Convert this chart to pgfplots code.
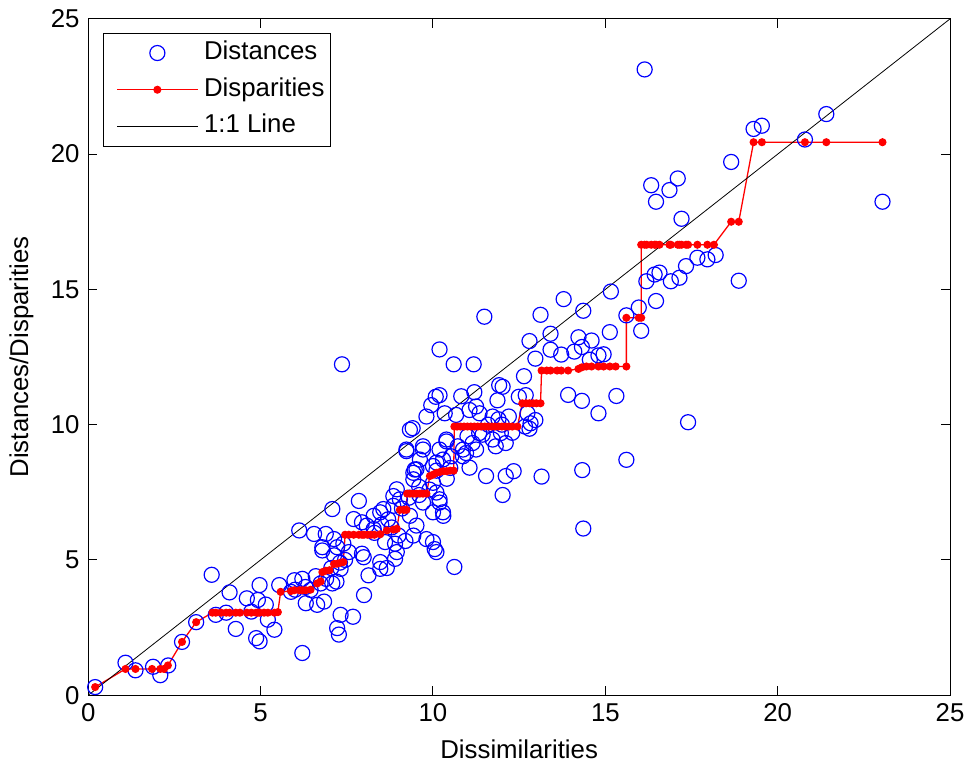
\documentclass[border=0pt]{standalone}
\usepackage{fontspec}
\setmainfont{Liberation Sans}
\usepackage{pgfplots}
\pgfplotsset{compat=1.18}
\begin{document}
\fontsize{26}{31}\selectfont
\begin{tikzpicture}
\begin{axis}[
  width=869pt, height=682pt, scale only axis,
  xmin=0, xmax=25, ymin=0, ymax=25,
  xtick={0,5,10,15,20,25}, ytick={0,5,10,15,20,25},
  tick align=inside, major tick length=9pt,
  axis line style={line width=1pt, black},
  every tick/.style={line width=1pt, black},
  /pgf/number format/assume math mode=true,
  xlabel={Dissimilarities}, ylabel={Distances/Disparities},
  legend cell align=left,
  legend style={at={(axis description cs:0.0173,0.9795)}, anchor=north west,
    draw=black, line width=1pt, inner xsep=4pt, inner ysep=5pt,
    column sep=4pt, row sep=7pt,
    nodes={inner sep=2pt, text height=0.75em, text depth=0.25em}},
  legend image code/.code={\path (0pt,0pt); \draw[mark repeat=2,mark phase=2,#1] plot coordinates {(9pt,0pt) (49.5pt,0pt) (90pt,0pt)};},
]
\addplot[blue, only marks, mark=o, mark size=7.6pt, mark options={line width=1.2pt}] table {
x y
0.2 0.3
1.08 1.2
1.37 0.92
1.88 1.05
2.09 0.74
2.32 1.1
2.72 1.97
3.13 2.7
3.58 4.45
3.7 2.97
4.0 3.05
4.1 3.8
4.28 2.45
4.6 3.58
4.73 3.09
4.92 3.52
4.97 4.07
4.87 2.11
4.97 1.99
5.15 3.35
5.21 2.79
5.4 2.42
5.54 4.07
5.88 3.82
5.98 4.25
6.0 3.9
6.21 4.3
6.31 3.4
6.3 4.0
6.45 3.89
6.64 3.34
6.6 4.4
6.84 3.46
6.9 4.3
6.21 1.56
6.74 4.13
7.08 4.13
7.2 4.2
7.22 2.48
7.27 2.24
7.32 2.97
6.79 5.35
6.12 6.09
7.08 6.88
6.55 5.96
6.89 5.96
7.13 5.77
7.22 5.47
6.79 5.47
7.13 5.17
7.56 5.29
7.36 12.23
7.32 4.67
7.05 4.7
7.3 4.9
7.45 5.0
7.4 5.6
7.94 5.23
7.85 7.18
7.7 6.51
7.94 6.39
8.08 6.27
8.28 6.63
8.47 6.76
8.28 6.14
8.3 6.0
8.5 6.3
8.7 6.5
8.8 6.2
8.56 6.88
8.85 7.0
8.61 5.66
8.9 5.6
8.47 4.92
8.9 5.04
7.99 5.1
8.13 4.43
8.47 4.67
8.66 4.7
8.0 3.7
7.68 2.9
8.95 7.61
9.04 7.24
8.85 7.36
8.95 5.29
9.0 5.9
9.2 5.7
9.1 6.9
9.3 7.3
9.6 7.4
9.9 7.6
9.43 5.9
9.81 5.77
10.0 5.66
10.1 5.29
10.05 5.4
10.62 4.74
9.52 6.27
9.33 6.63
10.0 6.76
10.29 6.76
10.19 7.24
10.3 6.63
10.19 7.12
9.71 7.12
9.43 7.98
9.6 7.7
10.0 7.85
10.1 7.49
10.4 8.0
10.5 8.4
9.47 8.34
10.0 8.47
10.1 8.3
10.29 8.71
9.62 8.71
9.23 9.02
9.33 9.81
9.71 9.08
10.39 9.38
9.81 10.3
9.43 8.22
9.52 8.35
10.1 8.6
9.23 9.08
9.71 9.2
9.41 9.87
9.95 10.72
10.08 11.03
10.19 12.78
10.19 11.09
10.34 10.42
10.39 9.45
10.19 9.08
10.53 8.83
10.6 12.23
10.67 10.36
10.72 9.2
10.82 11.05
10.87 8.83
10.87 9.08
10.96 8.95
11.0 9.57
11.06 10.54
11.06 8.41
11.15 9.32
11.18 12.23
11.2 11.2
11.25 10.67
11.25 9.08
11.34 9.69
11.35 10.42
11.44 9.63
11.49 13.99
11.54 8.1
11.6 10.0
11.73 10.3
11.73 9.45
11.82 9.2
11.87 10.9
11.92 11.46
11.9 10.2
11.97 9.69
12.0 10.0
12.02 11.4
12.02 7.4
12.11 9.32
12.11 8.1
12.2 10.3
12.3 9.7
12.34 8.28
12.49 11.03
12.64 11.79
12.67 9.93
12.69 11.09
12.74 10.42
12.8 9.85
12.8 13.09
12.83 10.05
12.97 12.44
12.97 10.17
13.12 14.06
13.15 8.08
13.41 13.36
13.41 12.77
13.72 12.59
13.79 14.64
13.92 11.1
14.1 12.7
14.22 13.23
14.32 12.87
14.32 10.88
14.33 8.32
14.36 6.16
14.36 14.21
14.55 12.4
14.6 13.11
14.8 12.56
14.8 10.42
14.95 12.6
15.13 13.42
15.16 14.92
15.32 11.06
15.61 14.04
15.61 8.7
15.97 14.33
16.04 13.47
16.14 23.13
16.19 15.3
16.33 18.85
16.43 15.55
16.47 14.57
16.47 18.24
16.57 15.62
16.86 18.67
16.9 15.3
17.1 19.1
17.15 15.43
17.21 17.61
17.34 15.86
17.4 10.09
17.67 16.17
17.96 16.11
18.2 16.27
18.65 19.71
18.87 15.32
19.3 20.93
19.54 21.05
20.79 20.54
21.41 21.48
23.04 18.24
};
\addlegendentry{Distances}
\addplot[red, line width=1.3pt, mark=*, mark size=3.4pt, mark options={solid}] table {
x y
0.2 0.3
1.08 0.97
1.37 0.97
1.85 0.97
2.09 0.97
2.2 0.97
2.31 1.1
2.72 1.97
3.13 2.7
3.6 3.05
3.7 3.05
3.85 3.05
4.0 3.05
4.1 3.05
4.28 3.05
4.4 3.05
4.6 3.05
4.73 3.05
4.87 3.05
4.92 3.05
4.97 3.05
5.1 3.05
5.21 3.05
5.4 3.05
5.5 3.07
5.58 3.82
5.88 3.85
5.98 3.88
6.12 3.88
6.21 3.88
6.31 3.88
6.45 3.9
6.64 4.13
6.74 4.2
6.79 4.55
6.89 4.6
7.0 4.62
7.13 4.85
7.22 4.86
7.32 4.9
7.4 4.92
7.45 5.93
7.56 5.93
7.7 5.93
7.85 5.93
7.94 5.93
8.0 5.93
8.1 5.93
8.2 5.93
8.3 5.93
8.47 5.95
8.66 6.09
8.85 6.12
8.95 6.15
9.04 6.85
9.15 6.85
9.23 6.85
9.25 7.45
9.33 7.45
9.43 7.45
9.52 7.45
9.62 7.45
9.71 7.45
9.81 7.45
9.91 8.1
10.0 8.15
10.1 8.22
10.2 8.25
10.3 8.28
10.4 8.28
10.5 8.3
10.6 8.3
10.62 9.93
10.7 9.93
10.8 9.93
10.9 9.93
11.0 9.93
11.1 9.93
11.2 9.93
11.3 9.93
11.4 9.93
11.5 9.93
11.6 9.93
11.7 9.93
11.8 9.93
11.9 9.93
12.0 9.93
12.1 9.93
12.2 9.93
12.3 9.93
12.45 9.93
12.59 10.79
12.7 10.79
12.8 10.79
12.9 10.79
13.0 10.79
13.12 10.79
13.15 12.0
13.3 12.0
13.41 12.0
13.6 12.0
13.72 12.0
13.92 12.0
14.22 12.06
14.32 12.12
14.45 12.15
14.6 12.15
14.8 12.15
14.95 12.15
15.13 12.15
15.3 12.15
15.61 12.15
15.61 13.95
15.97 13.95
16.04 13.95
16.04 16.65
16.14 16.65
16.2 16.65
16.33 16.65
16.43 16.65
16.47 16.65
16.57 16.65
16.86 16.65
16.9 16.65
17.1 16.65
17.15 16.65
17.21 16.65
17.34 16.65
17.4 16.65
17.67 16.65
17.96 16.65
18.15 16.65
18.65 17.5
18.87 17.5
19.3 20.44
19.54 20.44
20.79 20.44
21.41 20.44
23.04 20.44
};
\addlegendentry{Disparities}
\addplot[black, line width=0.8pt] coordinates {(0,0) (25,25)};
\addlegendentry{1:1 Line}
\end{axis}
\path (current axis.north east) ++(15pt,19pt);
\path (current axis.south west) ++(-89pt,-73pt);
\end{tikzpicture}
\end{document}
